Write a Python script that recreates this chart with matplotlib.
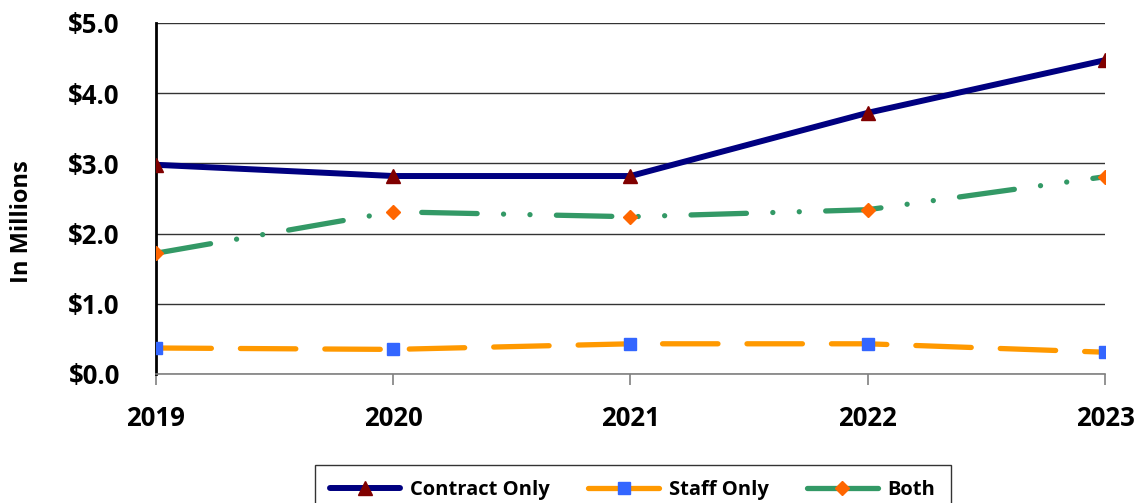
import matplotlib
matplotlib.use('Agg')
import matplotlib.pyplot as plt
from matplotlib.ticker import FuncFormatter

years = ['2019', '2020', '2021', '2022', '2023']
contract_only = [2.98, 2.82, 2.82, 3.72, 4.47]
staff_only = [0.37, 0.35, 0.43, 0.43, 0.31]
both = [1.72, 2.31, 2.24, 2.34, 2.81]

plt.rcParams['font.family'] = ['Open Sans', 'DejaVu Sans']
plt.rcParams['font.weight'] = 'bold'

fig = plt.figure(figsize=(11.4, 5.03), dpi=100)
ax = fig.add_axes([0.1368, 0.2565, 0.8325, 0.6978])

x = list(range(len(years)))

ax.plot(x, contract_only, color='#000080', lw=4.3, marker='^', ms=10,
        mfc='#800000', mec='#800000', label='Contract Only', zorder=4,
        solid_capstyle='round')
ax.plot(x, staff_only, color='#FF9900', lw=3.8, marker='s', ms=9,
        mfc='#3366FF', mec='#3366FF', label='Staff Only', zorder=3,
        linestyle=(0, (10.5, 5.5)), dash_capstyle='round')
ax.plot(x, both, color='#339966', lw=3.8, marker='D', ms=7,
        mfc='#FF6600', mec='#FF6600', label='Both', zorder=3,
        linestyle=(0, (10.5, 5.0, 0.01, 5.0, 0.01, 5.0)), dash_capstyle='round')

ax.set_xlim(0, 4)
ax.set_ylim(0, 5)
ax.set_yticks([0, 1, 2, 3, 4, 5])
ax.yaxis.set_major_formatter(FuncFormatter(lambda v, p: '${:.1f}'.format(v)))
ax.set_xticks(x)
ax.set_xticklabels(years)
ax.grid(axis='y', color='#333333', lw=1.0)
ax.set_axisbelow(True)

for s in ['top', 'right']:
    ax.spines[s].set_visible(False)
ax.spines['left'].set_color('black')
ax.spines['left'].set_linewidth(2.0)
ax.spines['bottom'].set_color('#808080')
ax.spines['bottom'].set_linewidth(1.2)

ax.tick_params(axis='y', length=0, pad=26, labelsize=18.5)
ax.tick_params(axis='x', direction='out', length=8, color='#808080',
               width=1.2, pad=14, labelsize=18.5)
for lab in ax.get_xticklabels() + ax.get_yticklabels():
    lab.set_fontweight('bold')

ax.set_ylabel('In Millions', fontsize=17, fontweight='bold')
ax.yaxis.set_label_coords(-0.128, 0.433)

leg = fig.legend(loc='upper center', bbox_to_anchor=(0.555, 0.0755), ncol=3,
                 frameon=True, fancybox=False, edgecolor='black',
                 handlelength=3.5, columnspacing=1.9, handletextpad=0.5,
                 prop={'size': 14.5, 'weight': 'bold'}, borderpad=0.75,
                 borderaxespad=0)
leg.get_frame().set_linewidth(1.0)
for h in leg.get_lines():
    h.set_linestyle('-')
    h.set_solid_capstyle('round')

fig.savefig('out.png', dpi=100)
